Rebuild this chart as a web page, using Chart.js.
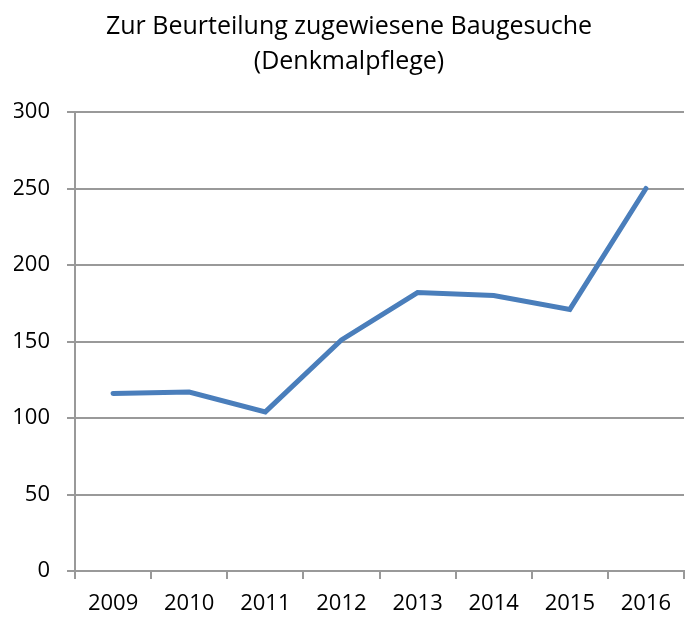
<!DOCTYPE html>
<html>
<head>
<meta charset="utf-8">
<script src="https://cdn.jsdelivr.net/npm/chart.js@4.4.0/dist/chart.umd.min.js"></script>
<style>
html,body{margin:0;padding:0;background:#fff;}
#wrap{width:689px;height:617px;}
</style>
</head>
<body>
<div id="wrap"><canvas id="c" width="689" height="617"></canvas></div>
<script>
const categories = ["2009","2010","2011","2012","2013","2014","2015","2016"];
const values = [116, 117, 104, 151, 182, 180, 171, 250];
const titleLines = ["Zur Beurteilung zugewiesene Baugesuche", "(Denkmalpflege)"];
const yTicks = {min: 0, max: 300, step: 50};

const FONT = "'Open Sans', 'Noto Sans', sans-serif";
new Chart(document.getElementById('c'), {
  type: 'line',
  data: {
    labels: categories,
    datasets: [{
      data: values,
      borderColor: '#4a7ebb',
      backgroundColor: '#4a7ebb',
      borderWidth: 5,
      pointRadius: 0,
      tension: 0,
      borderCapStyle: 'round',
      borderJoinStyle: 'miter'
    }]
  },
  options: {
    responsive: false,
    animation: false,
    devicePixelRatio: 1,
    layout: {padding: {left: 14, right: 5, top: 9, bottom: 0}},
    plugins: {
      legend: {display: false},
      tooltip: {enabled: false},
      title: {
        display: true,
        text: titleLines,
        color: '#000',
        font: {family: FONT, size: 25, weight: 'normal', lineHeight: 1.4},
        padding: {top: 0, bottom: 33}
      }
    },
    scales: {
      x: {
        offset: true,
        afterFit: s => { s.height = 46; },
        grid: {display: true, drawOnChartArea: false, drawTicks: true, tickLength: 8, color: '#999', lineWidth: 2, offset: true},
        border: {display: true, color: '#999', width: 2},
        ticks: {color: '#000', font: {family: FONT, size: 22}, padding: 12, maxRotation: 0}
      },
      y: {
        min: yTicks.min, max: yTicks.max,
        afterFit: s => { s.width = 61; },
        grid: {color: '#999', lineWidth: 2, drawTicks: true, tickLength: 8},
        border: {display: true, color: '#999', width: 2},
        ticks: {stepSize: yTicks.step, color: '#000', font: {family: FONT, size: 22}, padding: 17}
      }
    }
  }
});
</script>
</body>
</html>
